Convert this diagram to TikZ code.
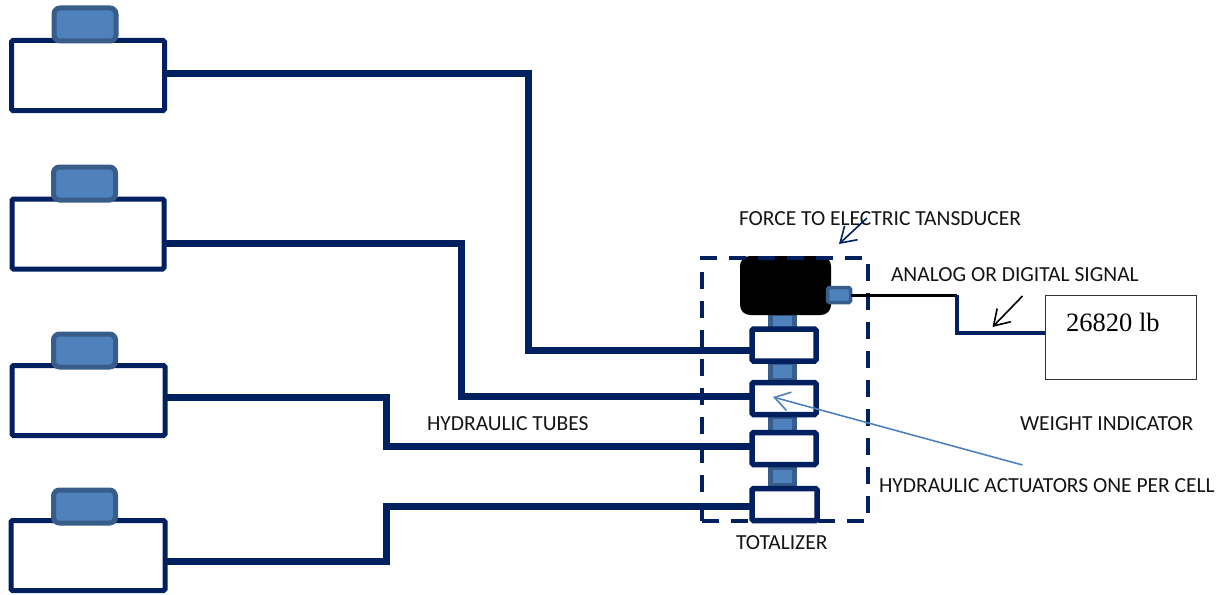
\documentclass[tikz,border=0pt]{standalone}
\usepackage{fontspec}
\setmainfont{Carlito}
\newfontfamily\serifnum{Liberation Serif}
\usetikzlibrary{arrows.meta}
\definecolor{navy}{HTML}{002060}
\definecolor{padfill}{HTML}{4F81BD}
\definecolor{padline}{HTML}{385D8A}
\tikzset{
  x=1pt,y=1pt,
  cellbox/.style={draw=navy,line width=5pt,fill=white,rounded corners=1.5pt,minimum width=153pt,minimum height=70pt,inner sep=0pt,outer sep=0pt},
  padbox/.style={draw=padline,line width=5pt,fill=padfill,rounded corners=6pt,minimum width=62pt,minimum height=33pt,inner sep=0pt,outer sep=0pt},
  actbox/.style={draw=navy,line width=5.5pt,fill=white,rounded corners=1.5pt,minimum width=64pt,minimum height=32pt,inner sep=0pt,outer sep=0pt},
  rodbox/.style={draw=padline,line width=5pt,fill=padfill,minimum width=24pt,minimum height=18pt,inner sep=0pt,outer sep=0pt},
  tube/.style={draw=navy,line width=7pt,line join=miter},
  label/.style={font=\fontsize{21.5}{24}\selectfont,text=black!92,inner sep=0pt,outer sep=0pt},
  barb/.style={-{Straight Barb[length=15pt,width=19pt,line width=1.6pt]}},
}
\begin{document}
\begin{tikzpicture}
\useasboundingbox (0,0) rectangle (1222,-594);
% load cells
\node[cellbox] (c1) at (88,-75.5) {};
\node[padbox] (p1) at (85,-24.5) {};
\node[cellbox,minimum width=152pt] (c2) at (88,-234) {};
\node[padbox] (p2) at (84.5,-183.5) {};
\node[cellbox] (c3) at (88.5,-400.5) {};
\node[padbox] (p3) at (84.5,-350.5) {};
\node[cellbox,minimum width=154pt] (c4) at (88,-555.5) {};
\node[padbox] (p4) at (84.5,-506.5) {};
% rods
\node[rodbox] (r1) at (782.5,-322) {};
\node[rodbox] (r2) at (782.5,-371.5) {};
\node[rodbox] (r3) at (782.5,-425.5) {};
\node[rodbox] (r4) at (782.5,-476) {};
% transducer
\node[fill=black,rounded corners=10pt,minimum width=91pt,minimum height=59pt,inner sep=0pt,outer sep=0pt] (fx) at (785.5,-285.5) {};
% totalizer frame
\node[draw=navy,line width=4pt,dash pattern=on 17pt off 12pt,minimum width=166pt,minimum height=263pt,inner sep=0pt,outer sep=0pt] (frame) at (784.5,-389.5) {};
% actuators
\node[actbox] (a1) at (784,-345) {};
\node[actbox] (a2) at (784,-398.5) {};
\node[actbox] (a3) at (784,-448.5) {};
\node[actbox,minimum width=65pt] (a4) at (784.5,-504.5) {};
% tubes
\coordinate (j1) at (528,-73);
\coordinate (j2) at (461,-243);
\coordinate (j3) at (386,-397);
\coordinate (j4) at (386,-561);
\draw[tube] ([yshift=2.5pt]c1.east) -- (j1) |- ([yshift=-5pt]a1.west);
\draw[tube] ([yshift=-9pt]c2.east) -- (j2) |- ([yshift=2.5pt]a2.west);
\draw[tube] ([yshift=3.5pt]c3.east) -- (j3) |- ([yshift=2.5pt]a3.west);
\draw[tube] ([yshift=-5.5pt]c4.east) -- (j4) |- ([yshift=-1.5pt]a4.west);
% signal
\node[draw=padline,line width=3.5pt,fill=padfill,rounded corners=1.5pt,minimum width=23pt,minimum height=15pt,inner sep=0pt,outer sep=0pt] (sc) at (839,-295) {};
\node[draw=black!80,line width=1pt,fill=white,minimum width=151pt,minimum height=84pt,inner sep=0pt,outer sep=0pt] (wi) at (1120.5,-337) {};
\node[anchor=base west,font=\serifnum\fontsize{26.5}{29}\selectfont,inner sep=0pt] (val) at (1066,-331) {26820 lb};
\coordinate (j5) at (957,-295);
\draw[black,line width=3pt] (sc.east) -- (j5);
\draw[navy,line width=3.5pt] (j5) |- ([yshift=4pt]wi.west);
% labels
\node[label,anchor=west] (l1) at (739,-219) {FORCE TO ELECTRIC TANSDUCER};
\node[label,anchor=west] (l2) at (891,-275) {ANALOG OR DIGITAL SIGNAL};
\node[label,anchor=west] (l3) at (427,-424) {HYDRAULIC TUBES};
\node[label,anchor=west] (l4) at (1020,-424) {WEIGHT INDICATOR};
\node[label,anchor=west] (l5) at (879,-486) {HYDRAULIC ACTUATORS ONE PER CELL};
\node[label,anchor=west] (l6) at (736,-543) {TOTALIZER};
% pointers
\coordinate (f0) at (867,-218);
\coordinate (f1) at (839,-244);
\draw[navy,line width=1.6pt,barb] (f0) -- (f1);
\coordinate (s0) at (1022.5,-296);
\coordinate (s1) at (992.5,-327);
\draw[black,line width=1.6pt,barb] (s0) -- (s1);
\coordinate (h0) at (1022.5,-465);
\coordinate (h1) at (773,-397);
\draw[padfill,line width=1.6pt,barb] (h0) -- (h1);
\end{tikzpicture}
\end{document}
